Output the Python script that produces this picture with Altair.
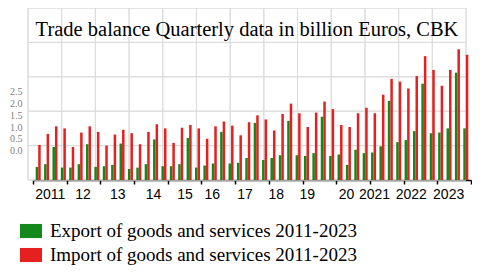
import altair as alt
import pandas as pd

years = ["2011", "2012", "2013", "2014", "2015", "2016", "2017",
         "2018", "2019", "2020", "2021", "2022", "2023"]
year_labels = ["2011", "12", "13", "14", "15", "16", "17", "18", "19",
               "20", "2021", "2022", "2023"]
quarters = [f"{y}Q{q}" for y in years for q in range(1, 5)]

series_names = ["Export of goods and services 2011-2023",
                "Import of goods and services 2011-2023"]

export_vals = [0.19, 0.23, 0.48, 0.18, 0.18, 0.23, 0.52, 0.19,
               0.20, 0.22, 0.53, 0.16, 0.18, 0.23, 0.59, 0.20,
               0.20, 0.23, 0.61, 0.18, 0.21, 0.24, 0.70, 0.24,
               0.25, 0.32, 0.83, 0.29, 0.32, 0.36, 0.86, 0.36,
               0.35, 0.39, 0.92, 0.35, 0.37, 0.22, 0.44, 0.39,
               0.40, 0.49, 1.15, 0.55, 0.58, 0.71, 1.40, 0.68,
               0.69, 0.75, 1.56, 0.75]
import_vals = [0.51, 0.67, 0.78, 0.75, 0.48, 0.69, 0.78, 0.70,
               0.50, 0.66, 0.73, 0.68, 0.52, 0.70, 0.81, 0.75,
               0.54, 0.76, 0.80, 0.75, 0.60, 0.78, 0.85, 0.79,
               0.65, 0.84, 0.94, 0.88, 0.72, 0.96, 1.11, 0.97,
               0.77, 0.98, 1.14, 1.03, 0.80, 0.77, 0.97, 1.05,
               0.97, 1.24, 1.47, 1.43, 1.33, 1.51, 1.80, 1.60,
               1.37, 1.60, 1.90, 1.82]

side_ticks = [0.0, 0.5, 1.0, 1.5, 2.0, 2.5]
grid_rows = [0.0, 0.5, 1.0, 1.5, 2.0]

title_text = "Trade balance Quarterly data in billion Euros, CBK"
colors = ["#12891a", "#e4211f"]
grid_color = "#dcdcdc"

W, H = 438, 172

# small per-label shifts of the year labels, as in the reference
label_shift = {"12": -1, "14": 2, "16": -6.5, "17": -7.5, "18": -10,
               "19": -12.7, "20": -7, "2021": -12.7, "2022": -9.7, "2023": -6}

bars_df = pd.DataFrame({
    "quarter": quarters * 2,
    "series": [series_names[0]] * len(quarters) + [series_names[1]] * len(quarters),
    "value": export_vals + import_vals,
})
year_df = pd.DataFrame({"label": year_labels})
row_df = pd.DataFrame({"r": grid_rows})
side_df = pd.DataFrame({"v": side_ticks})

col_cells = alt.Chart(year_df).mark_rect(
    fillOpacity=0, stroke=grid_color, strokeWidth=1
).encode(
    x=alt.X("label:N", sort=year_labels,
            scale=alt.Scale(range=[0, W], paddingInner=0, paddingOuter=0),
            axis=None)
)

row_cells = alt.Chart(row_df).transform_calculate(
    r2="datum.r + 0.5"
).mark_rect(fillOpacity=0, stroke=grid_color, strokeWidth=1).encode(
    y=alt.Y("r:Q", scale=alt.Scale(domain=[0, 2.5], nice=False), axis=None),
    y2="r2:Q",
)

bars = alt.Chart(bars_df).mark_bar().encode(
    x=alt.X("quarter:N", sort=quarters,
            scale=alt.Scale(range=[5, 443], paddingInner=0.4, paddingOuter=0.32),
            axis=None),
    xOffset=alt.XOffset("series:N", sort=series_names),
    y=alt.Y("value:Q", scale=alt.Scale(domain=[0, 2.5], nice=False), axis=None),
    color=alt.Color("series:N", sort=series_names,
                    scale=alt.Scale(domain=series_names, range=colors),
                    legend=alt.Legend(orient="none", legendX=-8, legendY=212,
                                      direction="vertical", title=None,
                                      symbolType="M-1,-0.64L1,-0.64L1,0.64L-1,0.64Z",
                                      symbolSize=484, symbolStrokeWidth=0,
                                      labelFont="Liberation Serif", labelFontSize=19,
                                      labelColor="black", labelOffset=8,
                                      rowPadding=3, padding=0, labelLimit=0))
)

offset_cond = {
    "condition": [{"test": f"datum.value == '{k}'", "value": v}
                  for k, v in label_shift.items()],
    "value": 0,
}

year_axis = alt.Chart(year_df).mark_bar(opacity=0).encode(
    x=alt.X("label:N", sort=year_labels,
            scale=alt.Scale(range=[5, 443], paddingInner=0, paddingOuter=0),
            axis=alt.Axis(orient="bottom", tickBand="extent", domainColor="black",
                          domainWidth=1.5, tickColor="black", tickSize=4,
                          tickWidth=1.5, labelFont="Liberation Sans",
                          labelFontSize=14, labelColor="black", labelPadding=3,
                          labelAngle=0, labelOffset=offset_cond,
                          grid=False, title=None))
)

side_axis = alt.Chart(side_df).mark_point(opacity=0).encode(
    y=alt.Y("v:Q", scale=alt.Scale(domain=[-1.2415, 6.047], nice=False, zero=False),
            axis=alt.Axis(orient="left", values=side_ticks, format=".1f",
                          grid=False, ticks=False, domain=False,
                          labelFont="Liberation Serif", labelFontSize=10,
                          labelColor="#808080", labelPadding=6, title=None))
)

chart = alt.layer(col_cells, row_cells, bars, year_axis, side_axis).resolve_scale(
    x="independent", y="independent"
).properties(
    width=W, height=H,
    autosize="none",
    padding={"left": 20, "top": 0, "right": 6, "bottom": 90},
    title=alt.TitleParams(title_text, font="Liberation Serif", fontSize=20.5,
                          fontWeight="normal", color="black", anchor="middle",
                          offset=-27, dy=22, baseline="alphabetic", frame="group"),
).configure_view(stroke=None)

chart.save("out.html", embed_options={"renderer": "svg", "actions": False})
